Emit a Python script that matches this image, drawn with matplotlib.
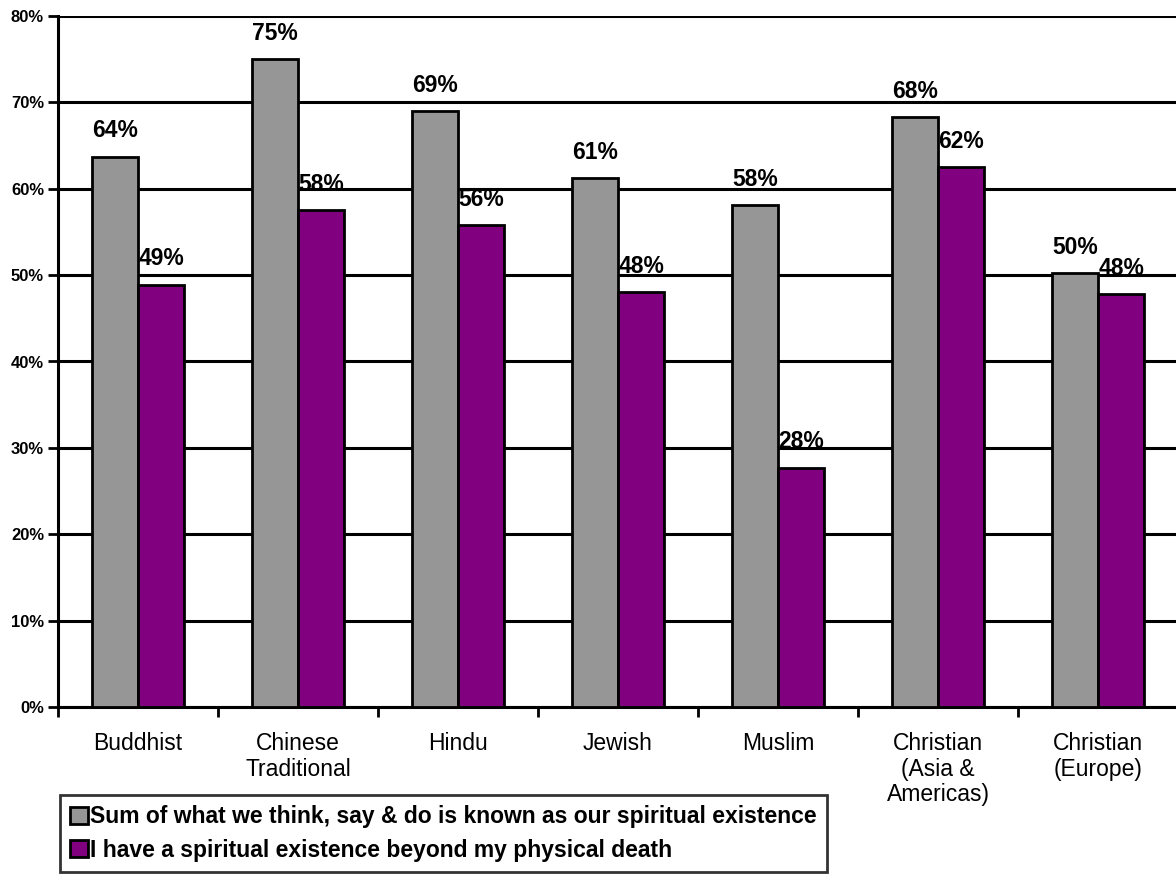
import matplotlib.pyplot as plt
import numpy as np

plt.rcParams['font.family'] = ['Liberation Sans', 'DejaVu Sans']

categories = ["Buddhist", "Chinese\nTraditional", "Hindu", "Jewish", "Muslim",
              "Christian\n(Asia &\nAmericas)", "Christian\n(Europe)"]
known = [63.7, 75.0, 69.0, 61.2, 58.1, 68.3, 50.2]
beyond = [48.9, 57.5, 55.8, 48.0, 27.7, 62.5, 47.8]
known_labels = ["64%", "75%", "69%", "61%", "58%", "68%", "50%"]
beyond_labels = ["49%", "58%", "56%", "48%", "28%", "62%", "48%"]
series_names = ["Sum of what we think, say & do is known as our spiritual existence",
                "I have a spiritual existence beyond my physical death"]

fig = plt.figure(figsize=(11.76, 8.77), dpi=100)
ax = fig.add_axes([58 / 1176, 170 / 877, 1120 / 1176, 691 / 877])

x = np.arange(len(categories))
w = 0.29
b1 = ax.bar(x - w / 2, known, w, color="#969696", edgecolor="black", linewidth=2, zorder=3,
            label=series_names[0])
b2 = ax.bar(x + w / 2, beyond, w, color="#800080", edgecolor="black", linewidth=2, zorder=3,
            label=series_names[1])

# value labels above each bar
for xi, v, s in zip(x - w / 2, known, known_labels):
    ax.annotate(s, (xi, v), xytext=(0, 14), textcoords="offset points",
                ha="center", va="baseline", fontsize=16.5, fontweight="bold", zorder=4)
for xi, v, s in zip(x + w / 2, beyond, beyond_labels):
    ax.annotate(s, (xi, v), xytext=(0, 14), textcoords="offset points",
                ha="center", va="baseline", fontsize=16.5, fontweight="bold", zorder=4)

ax.set_xlim(-0.5, 6.5)
ax.set_ylim(0, 80)
ax.set_yticks(np.arange(0, 81, 10))
ax.set_yticklabels([f"{t}%" for t in range(0, 81, 10)], fontsize=12, fontweight="bold")
ax.yaxis.grid(True, color="black", linewidth=2.2, zorder=0)
ax.set_axisbelow(True)

ax.set_xticks(np.arange(-0.5, 7, 1))
ax.set_xticklabels([])
ax.set_xticks(x, minor=True)
ax.set_xticklabels(categories, minor=True, fontsize=16.5, linespacing=1.15)
ax.tick_params(axis="x", which="minor", length=0, pad=18)
ax.tick_params(axis="x", which="major", length=7, width=2, direction="out")
ax.tick_params(axis="y", length=7, width=2, direction="out", pad=3)

for side in ["top", "right"]:
    ax.spines[side].set_visible(False)
for side in ["left", "bottom"]:
    ax.spines[side].set_linewidth(2.2)

leg = fig.legend(handles=[b1, b2], loc="upper left", bbox_to_anchor=(60 / 1176, 1 - 795 / 877),
                 prop={"weight": "bold", "size": 16.5}, frameon=True, fancybox=False,
                 handlelength=0.75, handleheight=0.75, handletextpad=0.1, borderpad=0.45,
                 labelspacing=0.45, borderaxespad=0)
leg.get_frame().set_edgecolor("black")
leg.get_frame().set_linewidth(2)

fig.savefig("out.png", dpi=100)
